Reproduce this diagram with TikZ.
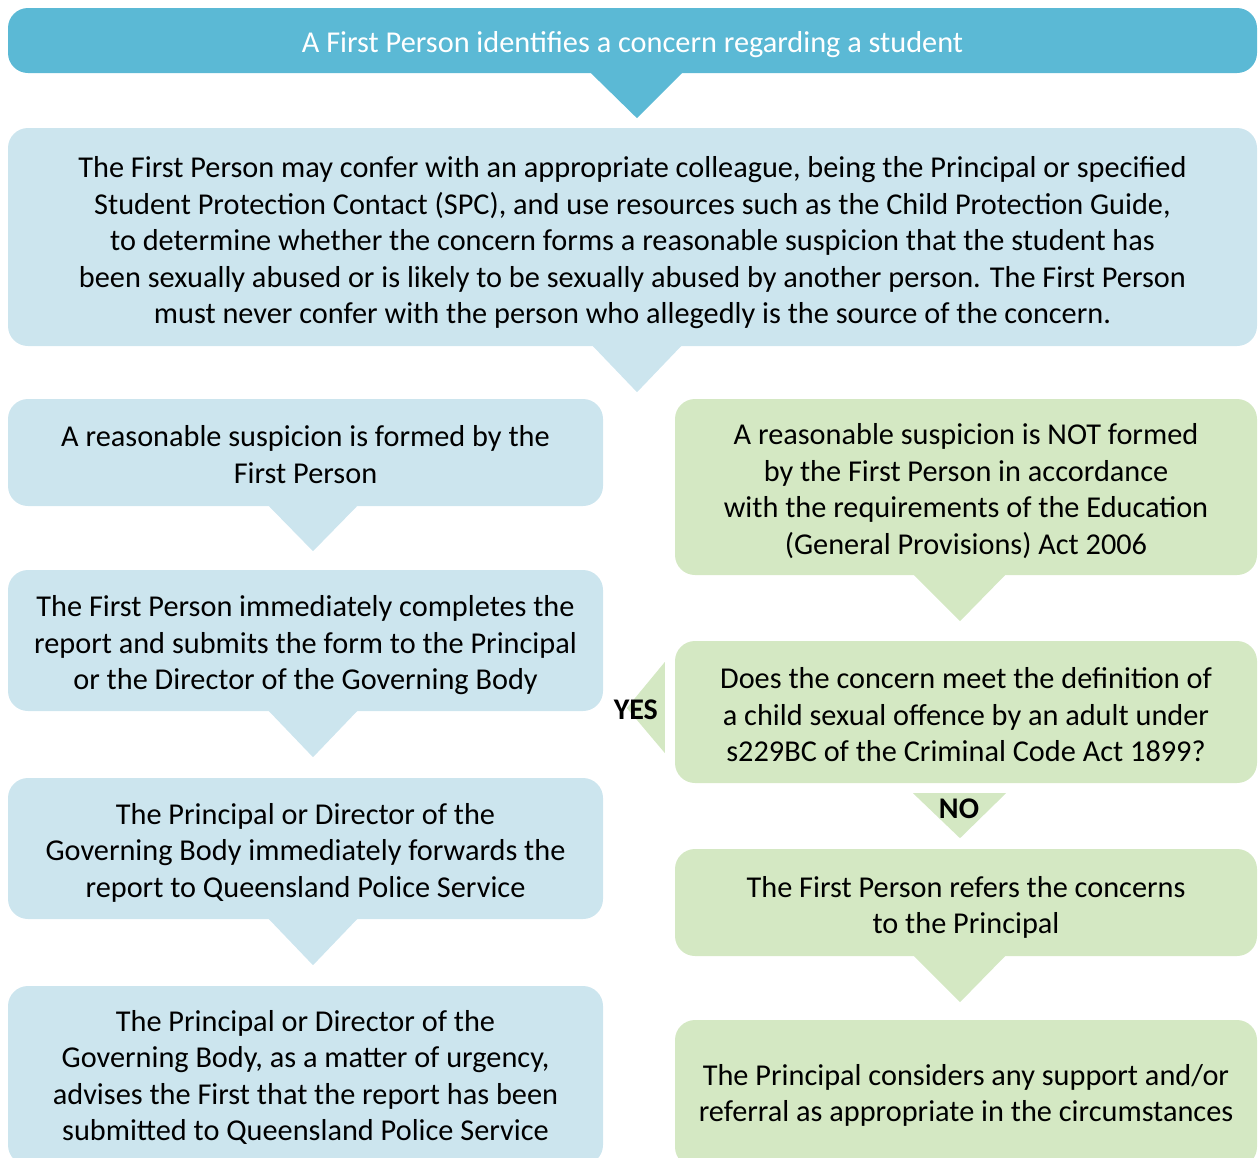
\documentclass[tikz,border=0pt]{standalone}
\usepackage{fontspec}
\setmainfont{Carlito}
\usetikzlibrary{calc}
\definecolor{dblue}{HTML}{5BB9D5}
\definecolor{lblue}{HTML}{CCE5EE}
\definecolor{lgreen}{HTML}{D4E8C3}
\begin{document}
\begin{tikzpicture}[x=1pt,y=-1pt,
  box/.style={rounded corners=20pt, inner sep=0pt},
  bluebox/.style={box, fill=lblue},
  greenbox/.style={box, fill=lgreen},
  txt/.style={inner sep=0pt, align=center, font=\fontsize{30.3}{36.5}\selectfont, text=black},
  lbl/.style={font=\fontsize{30}{32}\selectfont\bfseries, text=black, inner sep=0pt}]
\useasboundingbox (0,0) rectangle (1258,1157);
\clip (0,0) rectangle (1258,1157);
% banner
\node[box, fill=dblue, minimum width=1249pt, minimum height=65pt] (top) at (632.5,40.5) {};
\node[txt, text=white] (topt) at ($(top.center)+(0,4)$)
  {A First Person identifies a concern regarding a student};
\fill[dblue] ($(top.south)+(-42.5,-1)$) -- ($(top.south)+(50.5,-1)$) -- ($(top.south)+(4.5,45)$) -- cycle;
% confer box
\node[bluebox, minimum width=1249pt, minimum height=218pt] (confer) at (632.5,237) {};
\node[txt] (confert) at ($(confer.center)+(0,6)$)
  {The First Person may confer with an appropriate colleague, being the Principal or specified\\
   Student Protection Contact (SPC), and use resources such as the Child Protection Guide,\\
   to determine whether the concern forms a reasonable suspicion that the student has\\
   been sexually abused or is likely to be sexually abused by another person. The First Person\\
   must never confer with the person who allegedly is the source of the concern.};
\fill[lblue] ($(confer.south)+(-40.5,-1)$) -- ($(confer.south)+(49.5,-1)$) -- ($(confer.south)+(4.5,46)$) -- cycle;
% left column
\node[bluebox, minimum width=595pt, minimum height=107pt] (l1) at (305.5,452.5) {};
\node[txt] (l1t) at ($(l1.center)+(0,2)$) {A reasonable suspicion is formed by the\\ First Person};
\fill[lblue] ($(l1.south)+(-37.5,-1)$) -- ($(l1.south)+(52.5,-1)$) -- ($(l1.south)+(7.5,45)$) -- cycle;
\node[bluebox, minimum width=595pt, minimum height=141pt] (l2) at (305.5,640.5) {};
\node[txt] (l2t) at ($(l2.center)+(0,5)$)
  {The First Person immediately completes the\\ report and submits the form to the Principal\\ or the Director of the Governing Body};
\fill[lblue] ($(l2.south)+(-37.5,-1)$) -- ($(l2.south)+(52.5,-1)$) -- ($(l2.south)+(7.5,46)$) -- cycle;
\node[bluebox, minimum width=595pt, minimum height=141pt] (l3) at (305.5,848.5) {};
\node[txt] (l3t) at ($(l3.center)+(0,4)$)
  {The Principal or Director of the\\ Governing Body immediately forwards the\\ report to Queensland Police Service};
\fill[lblue] ($(l3.south)+(-37.5,-1)$) -- ($(l3.south)+(52.5,-1)$) -- ($(l3.south)+(7.5,46)$) -- cycle;
\node[bluebox, minimum width=595pt, minimum height=179pt] (l4) at (305.5,1075.5) {};
\node[txt] (l4t) at ($(l4.center)+(0,2)$)
  {The Principal or Director of the\\ Governing Body, as a matter of urgency,\\ advises the First that the report has been\\ submitted to Queensland Police Service};
% right column
\node[greenbox, minimum width=582pt, minimum height=176pt] (r1) at (966,487) {};
\node[txt] (r1t) at ($(r1.center)+(0,4)$)
  {A reasonable suspicion is NOT formed\\ by the First Person in accordance\\ with the requirements of the Education\\ (General Provisions) Act 2006};
\fill[lgreen] ($(r1.south)+(-53,-1)$) -- ($(r1.south)+(40,-1)$) -- ($(r1.south)+(-6,46)$) -- cycle;
\node[greenbox, minimum width=582pt, minimum height=142pt] (r2) at (966,712) {};
\node[txt] (r2t) at ($(r2.center)+(0,3)$)
  {Does the concern meet the definition of\\ a child sexual offence by an adult under\\ s229BC of the Criminal Code Act 1899?};
\fill[lgreen] ($(r2.west)+(-10,-50)$) -- ($(r2.west)+(-10,41)$) -- ($(r2.west)+(-48,-4)$) -- cycle;
\node[lbl] (yes) at ($(r2.west)+(-39,-2)$) {YES};
\fill[lgreen] ($(r2.south)+(-53,10)$) -- ($(r2.south)+(40,10)$) -- ($(r2.south)+(-6,55)$) -- cycle;
\node[lbl] (no) at ($(r2.south)+(-7,26)$) {NO};
\node[greenbox, minimum width=582pt, minimum height=107pt] (r3) at (966,902.5) {};
\node[txt] (r3t) at ($(r3.center)+(0,5)$) {The First Person refers the concerns\\ to the Principal};
\fill[lgreen] ($(r3.south)+(-53,-1)$) -- ($(r3.south)+(40,-1)$) -- ($(r3.south)+(-6,46)$) -- cycle;
\node[greenbox, minimum width=582pt, minimum height=147pt] (r4) at (966,1093.5) {};
\node[txt] (r4t) at ($(r4.center)+(0,2)$)
  {The Principal considers any support and/or\\ referral as appropriate in the circumstances};
\end{tikzpicture}
\end{document}
